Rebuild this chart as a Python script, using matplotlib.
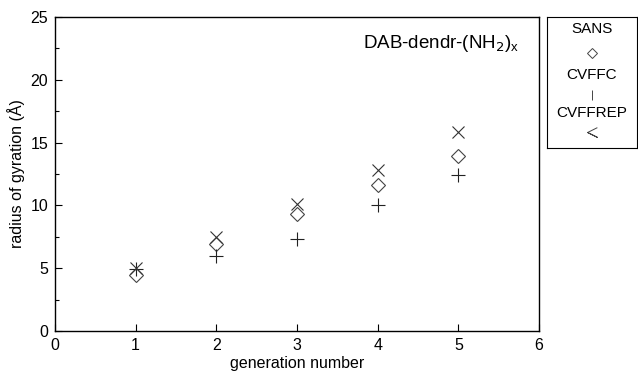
import matplotlib.pyplot as plt
import numpy as np

plt.rcParams['font.family'] = ['Liberation Sans', 'DejaVu Sans']

generation = [1, 2, 3, 4, 5]
sans = [4.45, 6.9, 9.3, 11.65, 13.9]
cvffc = [4.95, 5.95, 7.35, 10.0, 12.45]
cvffrep = [5.0, 7.45, 10.1, 12.85, 15.85]
labels = ['SANS', 'CVFFC', 'CVFFREP']

fig = plt.figure(figsize=(6.38, 3.72), dpi=100)
ax = fig.add_axes([55/638, 1 - 331/372, 484/638, 314/372])

ax.plot(generation, sans, 'D', mfc='none', mec='#444444', ms=7, mew=0.8)
ax.plot(generation, cvffc, '+', color='#222222', ms=10, mew=0.8)
ax.plot(generation, cvffrep, 'x', color='#333333', ms=8.5, mew=0.8)

ax.set_xlim(0, 6)
ax.set_ylim(0, 25)
ax.set_xticks(range(0, 7))
ax.set_yticks(range(0, 26, 5))
ax.set_yticks(np.arange(2.5, 25, 5), minor=True)
ax.tick_params(direction='in', labelsize=11.5, length=5, width=0.8, pad=5)
ax.tick_params(which='minor', direction='in', length=3, width=0.8)
for s in ax.spines.values():
    s.set_linewidth(1.0)
ax.set_xlabel('generation number', fontsize=11.5, labelpad=2)
ax.set_ylabel('radius of gyration (Å)', fontsize=11.5, labelpad=4)
ax.text(0.96, 0.95, r'DAB-dendr-(NH$_2$)$_\mathregular{x}$', transform=ax.transAxes,
        ha='right', va='top', fontsize=13.5)

# legend box: label above marker
lax = fig.add_axes([547/638, 1 - 148/372, 90/638, 131/372])
lax.set_xlim(0, 1)
lax.set_ylim(0, 1)
lax.set_xticks([])
lax.set_yticks([])
chevron = [(1, 1), (-1, 0), (1, -1), (-1, 0)]
text_y = [0.908, 0.557, 0.267]
mark_y = [0.725, 0.405, 0.122]
for lbl, ty in zip(labels, text_y):
    lax.text(0.5, ty, lbl, ha='center', va='center', fontsize=11)
lax.plot([0.5], [mark_y[0]], 'D', mfc='none', mec='#444444', ms=5.5, mew=0.7)
lax.plot([0.5], [mark_y[1]], '|', color='#444444', ms=7, mew=0.7)
lax.plot([0.5], [mark_y[2]], marker=chevron, color='#444444', ms=7, mew=0.7,
         mfc='none', linestyle='none')

fig.savefig('out.png', dpi=100)
